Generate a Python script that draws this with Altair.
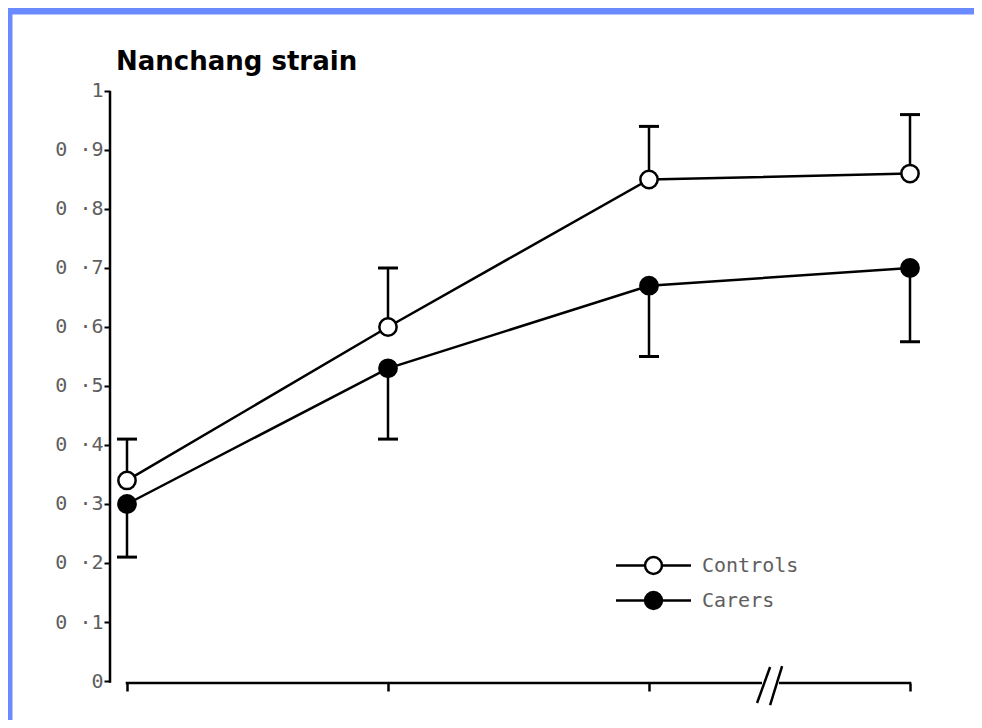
import altair as alt
import pandas as pd

# ---- data ----
time_points = [1, 2, 3, 4]
series_names = ["Controls", "Carers"]
controls_mean = [0.34, 0.60, 0.85, 0.86]
controls_upper = [0.41, 0.70, 0.94, 0.96]
carers_mean = [0.30, 0.53, 0.67, 0.70]
carers_lower = [0.21, 0.41, 0.55, 0.575]
y_tick_values = [0.0, 0.1, 0.2, 0.3, 0.4, 0.5, 0.6, 0.7, 0.8, 0.9, 1.0]
title_text = "Nanchang strain"

rows = []
for i, t in enumerate(time_points):
    rows.append({"x": t, "series": "Controls", "mean": controls_mean[i], "err": controls_upper[i]})
    rows.append({"x": t, "series": "Carers", "mean": carers_mean[i], "err": carers_lower[i]})
df = pd.DataFrame(rows)

# ---- layout (the view is the white page area) ----
X_DOMAIN = [0.5594, 4.2452]
Y_DOMAIN = [-0.0661, 1.1305]
Y_AXIS_AT = 0.9349
X_AXIS_AT = -0.0034

xs = alt.Scale(domain=X_DOMAIN, nice=False, zero=False)
ys = alt.Scale(domain=Y_DOMAIN, nice=False, zero=False)

LABEL_FONT = "DejaVu Sans Mono"
GREY = "#5e5e5e"

X_AX = alt.Axis(values=time_points, labels=False, domain=False, grid=False,
                ticks=True, tickSize=8, tickWidth=2.5, tickColor="black",
                offset=-37, title=None)
Y_AX = alt.Axis(values=y_tick_values, domain=False, grid=False,
                tickSize=6, tickWidth=2, tickColor="black",
                labelExpr="datum.value == 0 ? '0' : (datum.value == 1 ? '1' : '0 ·' + round(datum.value * 10))",
                labelFont=LABEL_FONT, labelFontSize=20, labelColor=GREY,
                labelPadding=1, offset=-98, title=None)

# axis lines (x axis broken by a '//' between 3 and 4)
y_axis_line = pd.DataFrame({"x": [Y_AXIS_AT], "y": [-0.003], "y2": [1.0]})
x_axis_segments = pd.DataFrame({"x": [0.995, 3.498], "x2": [3.433, 4.005],
                                "y": [X_AXIS_AT, X_AXIS_AT]})
break_marks = pd.DataFrame({"x": [3.414, 3.464], "x2": [3.464, 3.510],
                            "y": [-0.0373, -0.0407], "y2": [0.0237, 0.0254]})

yaxis_rule = alt.Chart(y_axis_line).mark_rule(color="black", strokeWidth=2.5).encode(
    x=alt.X("x:Q", scale=xs, axis=X_AX),
    y=alt.Y("y:Q", scale=ys, axis=Y_AX),
    y2="y2:Q",
)
xaxis_rule = alt.Chart(x_axis_segments).mark_rule(color="black", strokeWidth=2.5).encode(
    x=alt.X("x:Q", scale=xs, axis=X_AX),
    x2="x2:Q",
    y=alt.Y("y:Q", scale=ys, axis=Y_AX),
)
break_rule = alt.Chart(break_marks).mark_rule(color="black", strokeWidth=2.5).encode(
    x=alt.X("x:Q", scale=xs, axis=X_AX),
    x2="x2:Q",
    y=alt.Y("y:Q", scale=ys, axis=Y_AX),
    y2="y2:Q",
)

lines = alt.Chart(df).mark_line(color="black", strokeWidth=2.5).encode(
    x=alt.X("x:Q", scale=xs, axis=X_AX),
    y=alt.Y("mean:Q", scale=ys, axis=Y_AX),
    detail="series:N",
)

err_rules = alt.Chart(df).mark_rule(color="black", strokeWidth=2.5).encode(
    x=alt.X("x:Q", scale=xs, axis=X_AX),
    y=alt.Y("mean:Q", scale=ys, axis=Y_AX),
    y2="err:Q",
)
err_caps = alt.Chart(df).mark_tick(color="black", orient="horizontal", size=20,
                                   thickness=3, opacity=1).encode(
    x=alt.X("x:Q", scale=xs, axis=X_AX),
    y=alt.Y("err:Q", scale=ys, axis=Y_AX),
)

legend_symbol = "M-4.17,0H-0.94A0.94,0.94 0 1,1 0.94,0H4.17M0.94,0A0.94,0.94 0 1,1 -0.94,0"

points = alt.Chart(df).mark_point(filled=True, shape="circle", size=300, stroke="black",
                                  strokeWidth=2.5, opacity=1).encode(
    x=alt.X("x:Q", scale=xs, axis=X_AX),
    y=alt.Y("mean:Q", scale=ys, axis=Y_AX),
    fill=alt.Fill("series:N",
                  scale=alt.Scale(domain=series_names, range=["white", "black"]),
                  legend=alt.Legend(orient="none", legendX=631, legendY=541, title=None,
                                    symbolType=legend_symbol, symbolSize=324,
                                    symbolStrokeColor="black", symbolStrokeWidth=2.5,
                                    symbolOpacity=1, symbolOffset=0, padding=0,
                                    labelFont=LABEL_FONT, labelFontSize=20, labelColor=GREY,
                                    labelOffset=38, rowPadding=8)),
)

chart = alt.layer(
    yaxis_rule, xaxis_rule, break_rule, lines, err_rules, err_caps, points
).properties(
    width=962,
    height=706,
    padding={"left": 4, "top": 6, "right": 0, "bottom": 0},
    autosize=alt.AutoSizeParams(type="none"),
    background="#6a8bff",
    title=alt.TitleParams(title_text, anchor="start", orient="top", frame="group",
                          offset=-82, dx=104, font="DejaVu Sans", fontWeight="bold",
                          fontSize=26, color="black", baseline="alphabetic"),
).configure_view(fill="white", strokeOpacity=0)

chart.save("out.html", embed_options={"renderer": "svg", "actions": False})
